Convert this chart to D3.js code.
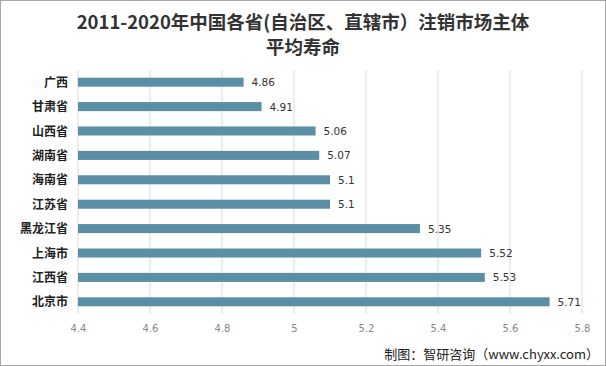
<!DOCTYPE html>
<html><head><meta charset="utf-8">
<script src="https://cdn.jsdelivr.net/npm/d3@7"></script>
<style>body{margin:0;background:#fff}svg{display:block}</style>
</head><body>
<svg id="c" width="606" height="366"></svg>
<script>
const categories = ["广西","甘肃省","山西省","湖南省","海南省","江苏省","黑龙江省","上海市","江西省","北京市"];
const values = [4.86,4.91,5.06,5.07,5.1,5.1,5.35,5.52,5.53,5.71];
const valueLabels = ["4.86","4.91","5.06","5.07","5.1","5.1","5.35","5.52","5.53","5.71"];
const tickValues = [4.4,4.6,4.8,5,5.2,5.4,5.6,5.8];
const titleLines = ["2011-2020年中国各省(自治区、直辖市）注销市场主体","平均寿命"];
const footer = "制图：智研咨询（www.chyxx.com）";

const svg = d3.select("#c");
const W = 606, H = 366;
svg.append("rect").attr("x",0.5).attr("y",0.5).attr("width",W-1).attr("height",H-1)
  .attr("fill","#fff").attr("stroke","#a6a6a6");

const x = d3.scaleLinear().domain([4.4,5.8]).range([78,582]);
const y = d3.scaleBand().domain(categories).range([70,314]).paddingInner(0.63).paddingOuter(0.315);

const g = svg.append("g");
g.selectAll("line.grid").data(tickValues).join("line")
  .attr("x1",d=>x(d)).attr("x2",d=>x(d)).attr("y1",70).attr("y2",314)
  .attr("stroke","#d9d9d9").attr("stroke-width",1);

g.selectAll("rect.bar").data(values).join("rect")
  .attr("x",x(4.4)).attr("y",(d,i)=>y(categories[i]))
  .attr("width",d=>x(d)-x(4.4)).attr("height",y.bandwidth())
  .attr("fill","#5b8fa6");

g.selectAll("text.val").data(values).join("text")
  .attr("x",d=>x(d)+8).attr("y",(d,i)=>y(categories[i])+y.bandwidth()/2+4)
  .attr("font-family","Verdana, DejaVu Sans, sans-serif").attr("font-size",10.5).attr("fill","#333")
  .text((d,i)=>valueLabels[i]);

g.selectAll("text.cat").data(categories).join("text")
  .attr("x",68).attr("y",d=>y(d)+y.bandwidth()/2+4.5)
  .attr("text-anchor","end").attr("font-family","Noto Sans CJK SC, sans-serif")
  .attr("font-weight","bold").attr("font-size",12).attr("fill","#222").text(d=>d);

const xAxis = d3.axisBottom(x).tickValues(tickValues).tickSize(0).tickFormat(d=>d3.format("")(+d.toFixed(1)));
const ax = svg.append("g").attr("transform","translate(0,319)").call(xAxis);
ax.select(".domain").remove();
ax.selectAll("text").attr("font-family","Verdana, DejaVu Sans, sans-serif").attr("font-size",10).attr("fill","#888").attr("dy","0.95em");

svg.selectAll("text.title").data(titleLines).join("text")
  .attr("x",303).attr("y",(d,i)=>29+i*25).attr("text-anchor","middle")
  .attr("font-family","Noto Sans CJK SC, sans-serif").attr("font-weight","bold")
  .attr("font-size",18.5).attr("fill","#333").text(d=>d);

svg.append("text").attr("x",599).attr("y",359).attr("text-anchor","end")
  .attr("font-family","Noto Sans CJK SC, sans-serif").attr("font-size",13).attr("fill","#222").text(footer);
</script>
</body></html>
